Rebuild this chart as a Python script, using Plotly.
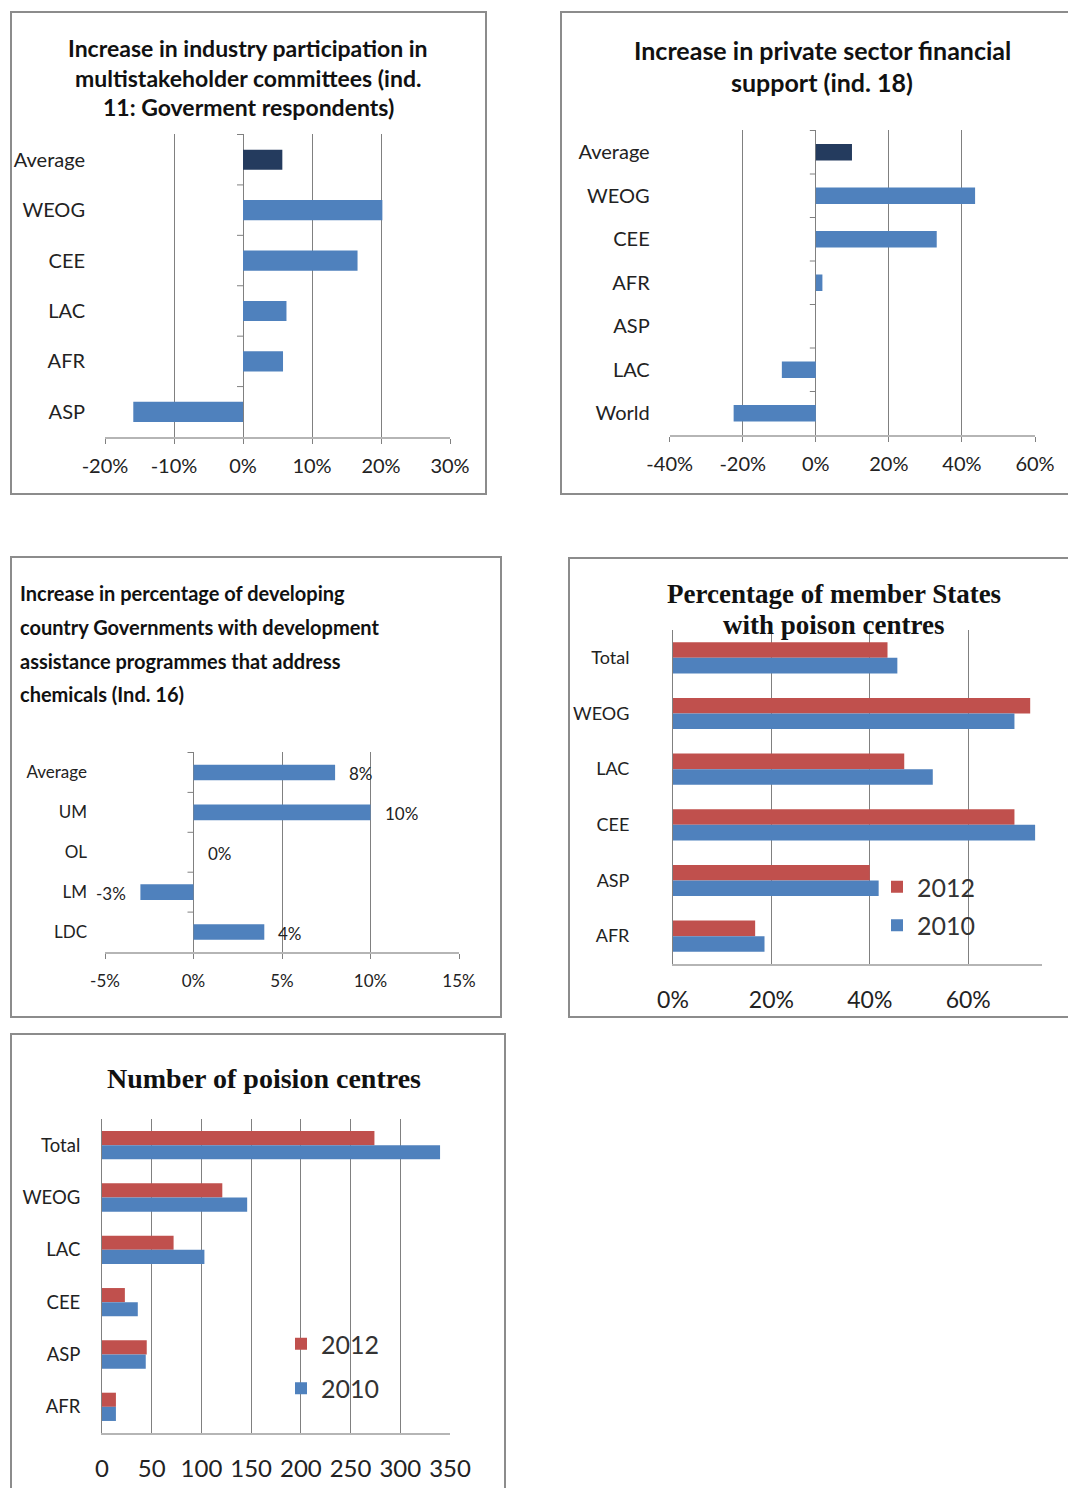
import plotly.graph_objects as go

W, H = 1068, 1488

# --- Ind. 11: industry participation in multistakeholder committees ---
ind11_regions = ["Average", "WEOG", "CEE", "LAC", "AFR", "ASP"]
ind11_change = [0.057, 0.202, 0.166, 0.063, 0.058, -0.159]
ind11_ticks = [-0.2, -0.1, 0.0, 0.1, 0.2, 0.3]

# --- Ind. 18: private sector financial support ---
ind18_regions = ["Average", "WEOG", "CEE", "AFR", "ASP", "LAC", "World"]
ind18_change = [0.099, 0.436, 0.331, 0.018, 0.0, -0.093, -0.225]
ind18_ticks = [-0.4, -0.2, 0.0, 0.2, 0.4, 0.6]

# --- Ind. 16: development assistance programmes addressing chemicals ---
ind16_groups = ["Average", "UM", "OL", "LM", "LDC"]
ind16_change = [0.08, 0.10, 0.0, -0.03, 0.04]
ind16_ticks = [-0.05, 0.0, 0.05, 0.10, 0.15]

# --- Poison centres by region ---
pc_regions = ["Total", "WEOG", "LAC", "CEE", "ASP", "AFR"]
pc_share_2012 = [0.436, 0.726, 0.470, 0.694, 0.400, 0.167]
pc_share_2010 = [0.456, 0.694, 0.528, 0.736, 0.418, 0.186]
pc_share_ticks = [0.0, 0.2, 0.4, 0.6]
pc_count_2012 = [274, 121, 72, 23, 45, 14]
pc_count_2010 = [340, 146, 103, 36, 44, 14]
pc_count_ticks = [0, 50, 100, 150, 200, 250, 300, 350]

BLUE = "#4F81BD"
RED = "#C0504D"
NAVY = "#243B5E"
GRID = "#808080"
AXIS = "#b5b5b5"
TXT = "#222222"
SANS = "Lato, sans-serif"
SERIF = "Liberation Serif, Times New Roman, serif"


def xdom(left, right):
    return [left / W, right / W]


def ydom(top, bottom):
    return [1 - bottom / H, 1 - top / H]


def pct(values):
    return [f"{v:.0%}" for v in values]


fig = go.Figure()
layout = dict(
    width=W, height=H, autosize=False,
    margin=dict(l=0, r=0, t=0, b=0, pad=0, autoexpand=False),
    paper_bgcolor="white", plot_bgcolor="white",
    barmode="overlay", showlegend=True,
    shapes=[], annotations=[],
)


def add_axes(i, xd, yd, xrange, tickvals, ticktext, cats, tick_size, cat_size,
             xstand, ystand, ticks_out=True, left_line=False, zero_line=True):
    sfx = "" if i == 1 else str(i)
    layout["xaxis" + sfx] = dict(
        domain=xd, anchor="y" + sfx, range=xrange, automargin=False,
        tickmode="array", tickvals=tickvals, ticktext=ticktext,
        showgrid=True, gridcolor=GRID, gridwidth=1,
        zeroline=zero_line, zerolinecolor=GRID, zerolinewidth=1,
        showline=True, linecolor=AXIS, linewidth=1.5,
        ticks="outside" if ticks_out else "", ticklen=5, tickcolor=GRID,
        tickfont=dict(family=SANS, size=tick_size, color=TXT),
        ticklabelstandoff=xstand, fixedrange=True,
    )
    layout["yaxis" + sfx] = dict(
        domain=yd, anchor="x" + sfx, type="category", automargin=False,
        categoryorder="array", categoryarray=cats, autorange="reversed",
        showgrid=False, zeroline=False, showline=left_line,
        linecolor=GRID, linewidth=1, ticks="",
        tickfont=dict(family=SANS, size=cat_size, color=TXT),
        ticklabelstandoff=ystand, fixedrange=True,
    )
    return "x" + sfx, "y" + sfx


def category_ticks(xr, yr, n):
    # short tick marks on the zero axis at the category boundaries
    for k in range(n):
        layout["shapes"].append(dict(
            type="line", xref=xr, yref=yr, xsizemode="pixel", xanchor=0,
            x0=-6, x1=0, y0=k - 0.5, y1=k - 0.5,
            line=dict(color=GRID, width=1)))


def frame(left, top, right, bottom):
    layout["shapes"].append(dict(
        type="rect", xref="paper", yref="paper",
        x0=left / W, x1=right / W, y0=1 - bottom / H, y1=1 - top / H,
        line=dict(color="#8c8c8c", width=2), fillcolor="rgba(0,0,0,0)",
        layer="below"))


def title_lines(lines, cx, ys, font, size, anchor="center", weight="bold"):
    for text, cy in zip(lines, ys):
        layout["annotations"].append(dict(
            text=text, xref="paper", yref="paper", x=cx / W, y=1 - cy / H,
            xanchor=anchor, yanchor="middle", showarrow=False,
            font=dict(family=font, size=size, color="#111111", weight=weight)))


# ---------- Chart 1 ----------
frame(11, 12, 486, 494)
title_lines(["Increase in industry participation in",
             "multistakeholder committees (ind.",
             "11: Goverment respondents)"], 248, [48, 78, 107], SANS, 23)
xa, ya = add_axes(1, xdom(105, 450), ydom(134, 437), [-0.2, 0.3],
                  ind11_ticks, pct(ind11_ticks), ind11_regions, 20, 20, 5, 19)
fig.add_trace(go.Bar(
    y=ind11_regions, x=ind11_change, orientation="h", width=0.4,
    marker=dict(color=[NAVY if r == "Average" else BLUE for r in ind11_regions], line=dict(width=0)),
    xaxis=xa, yaxis=ya, showlegend=False, hoverinfo="skip"))
category_ticks(xa, ya, len(ind11_regions))

# ---------- Chart 2 ----------
frame(561, 12, 1075, 494)
title_lines(["Increase in private sector financial", "support (ind. 18)"],
            822, [50, 82], SANS, 25)
xa, ya = add_axes(2, xdom(669.7, 1035), ydom(130, 435), [-0.4, 0.6],
                  ind18_ticks, pct(ind18_ticks), ind18_regions, 20, 20, 5, 19)
fig.add_trace(go.Bar(
    y=ind18_regions, x=ind18_change, orientation="h", width=0.38,
    marker=dict(color=[NAVY if r == "Average" else BLUE for r in ind18_regions], line=dict(width=0)),
    xaxis=xa, yaxis=ya, showlegend=False, hoverinfo="skip"))
category_ticks(xa, ya, len(ind18_regions))

# ---------- Chart 3 ----------
frame(11, 557, 501, 1017)
title_lines(["Increase in percentage of developing",
             "country Governments with development",
             "assistance programmes that address",
             "chemicals (Ind. 16)"], 18, [593, 627, 661, 694], SANS, 20,
            anchor="left")
xa, ya = add_axes(3, xdom(105, 459), ydom(752, 952), [-0.05, 0.15],
                  ind16_ticks, pct(ind16_ticks), ind16_groups, 17, 17, 8, 17)
fig.add_trace(go.Bar(
    y=ind16_groups, x=ind16_change, orientation="h", width=0.39,
    marker=dict(color=BLUE, line=dict(width=0)),
    xaxis=xa, yaxis=ya, showlegend=False, hoverinfo="skip"))
category_ticks(xa, ya, len(ind16_groups))
for g, v in zip(ind16_groups, ind16_change):
    layout["annotations"].append(dict(
        text=f"{v:.0%}", xref=xa, yref=ya, x=v, y=g, showarrow=False,
        xanchor="left" if v >= 0 else "right", xshift=12 if v >= 0 else -12,
        yshift=-1, font=dict(family=SANS, size=17, color=TXT)))

# ---------- Chart 4 ----------
frame(569, 558, 1075, 1017)
title_lines(["Percentage of member States", "with poison centres"],
            834, [594, 625], SERIF, 27)
xa, ya = add_axes(4, xdom(673, 1042), ydom(630, 964), [0, 0.75],
                  pc_share_ticks, pct(pc_share_ticks), pc_regions, 23, 18, 15, 39,
                  ticks_out=False, left_line=True, zero_line=False)
gw4 = 0.28
fig.add_trace(go.Bar(
    y=pc_regions, x=pc_share_2012, orientation="h", name="2012",
    width=gw4, offset=-gw4, marker=dict(color=RED, line=dict(width=0)),
    xaxis=xa, yaxis=ya, legend="legend", legendgroup="a", hoverinfo="skip"))
fig.add_trace(go.Bar(
    y=pc_regions, x=pc_share_2010, orientation="h", name="2010",
    width=gw4, offset=0, marker=dict(color=BLUE, line=dict(width=0)),
    xaxis=xa, yaxis=ya, legend="legend", legendgroup="b", hoverinfo="skip"))

# ---------- Chart 5 ----------
frame(11, 1034, 505, 1495)
title_lines(["Number of poision centres"], 264, [1078], SERIF, 28)
xa, ya = add_axes(5, xdom(102, 450), ydom(1119, 1433), [0, 350],
                  pc_count_ticks, [str(t) for t in pc_count_ticks], pc_regions,
                  24, 18.5, 13, 17, ticks_out=False, left_line=True, zero_line=False)
gw5 = 0.27
fig.add_trace(go.Bar(
    y=pc_regions, x=pc_count_2012, orientation="h", name="2012",
    width=gw5, offset=-gw5, marker=dict(color=RED, line=dict(width=0)),
    xaxis=xa, yaxis=ya, legend="legend2", legendgroup="c", hoverinfo="skip"))
fig.add_trace(go.Bar(
    y=pc_regions, x=pc_count_2010, orientation="h", name="2010",
    width=gw5, offset=0, marker=dict(color=BLUE, line=dict(width=0)),
    xaxis=xa, yaxis=ya, legend="legend2", legendgroup="d", hoverinfo="skip"))

layout["legend"] = dict(
    x=877 / W, y=1 - 864 / H, xanchor="left", yanchor="top",
    bgcolor="rgba(0,0,0,0)", font=dict(family=SANS, size=25, color="#333333"),
    tracegroupgap=3, itemclick=False, itemdoubleclick=False)
layout["legend2"] = dict(
    x=281 / W, y=1 - 1321 / H, xanchor="left", yanchor="top",
    bgcolor="rgba(0,0,0,0)", font=dict(family=SANS, size=25, color="#333333"),
    tracegroupgap=9, itemclick=False, itemdoubleclick=False)

fig.update_layout(**layout)
fig.write_html("out.html", config=dict(displayModeBar=False),
               post_script="document.body.style.margin='0';")
